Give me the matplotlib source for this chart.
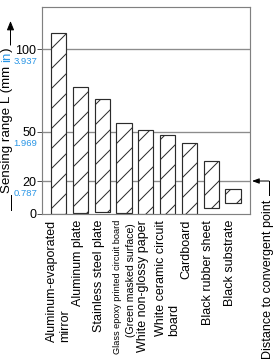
import matplotlib
matplotlib.use('Agg')
import matplotlib.pyplot as plt
from matplotlib import font_manager
from matplotlib.lines import Line2D
from matplotlib.transforms import blended_transform_factory

# ---------------- data ----------------
categories = [
    "Aluminum-evaporated\nmirror",
    "Aluminum plate",
    "Stainless steel plate",
    "Glass epoxy printed circuit board\n(Green masked surface)",
    "White non-glossy paper",
    "White ceramic circuit\nboard",
    "Cardboard",
    "Black rubber sheet",
    "Black substrate",
]
range_top = [110, 77, 69.5, 55.3, 51, 47.7, 43.2, 32, 15]
range_bottom = [0, 0.5, 1, 0.5, 0, 0, 0, 3.5, 6.5]
ytick_mm = [0, 20, 50, 100]
ytick_in = ["", "0.787", "1.969", "3.937"]
ylabel_parts = ["Sensing range L (mm", "in", ")"]
convergent_label = "Distance to convergent point"
convergent_mm = 20

# ---------------- style ----------------
W, H, DPI = 280, 360, 120
BLUE = '#2a96e6'
names = {f.name for f in font_manager.fontManager.ttflist}
SANS = 'Liberation Sans' if 'Liberation Sans' in names else 'DejaVu Sans'
plt.rcParams['font.family'] = [SANS, 'DejaVu Sans']
plt.rcParams['hatch.linewidth'] = 0.6
line_sizes = {"Glass epoxy printed circuit board": 5.5,
              "(Green masked surface)": 6.3}
LABEL_FS = 7.5

def fx(px):
    return px / W

def fy(py):
    return 1 - py / H

fig = plt.figure(figsize=(W / DPI, H / DPI), dpi=DPI)
ax = fig.add_axes([fx(42), fy(214), (250 - 42) / W, (214 - 7) / H])
ax.set_xlim(-0.76, 8.78)
ax.set_ylim(0, 125.5)

x = list(range(len(categories)))
heights = [t - b for t, b in zip(range_top, range_bottom)]
ax.bar(x, heights, bottom=range_bottom, width=0.69, color='white',
       edgecolor='#2b2b2b', linewidth=0.7, hatch='//', zorder=2)

for v in ytick_mm:
    if v > 0:
        ax.axhline(v, color='#8c8c8c', lw=0.8, zorder=1)

for s in ax.spines.values():
    s.set_color('#808080')
    s.set_linewidth(0.7)

ax.set_xticks([])
ax.set_yticks(ytick_mm)
ax.set_yticklabels([str(v) for v in ytick_mm])
ax.tick_params(axis='y', direction='out', length=3, width=0.6, color='#555555',
               pad=0.5, labelsize=7.5)

blend_ax = blended_transform_factory(ax.transAxes, ax.transData)
for v, s in zip(ytick_mm, ytick_in):
    if s:
        ax.annotate(s, xy=(0, v), xycoords=blend_ax, xytext=(-5, -12),
                    textcoords='offset pixels', ha='right', va='center',
                    color=BLUE, fontsize=5.7, annotation_clip=False)

renderer = fig.canvas.get_renderer()

# category labels
for i, cat in enumerate(categories):
    lines = cat.split('\n')
    n = len(lines)
    mixed = any(l in line_sizes for l in lines)
    first = None
    for k, line in enumerate(lines):
        off = -0.13 if n == 1 else (-0.3 + 0.6 * k)
        fs = line_sizes.get(line, LABEL_FS)
        if k == 0 or mixed:
            t = ax.annotate(line, xy=(i + off, 0), xycoords='data',
                            xytext=(0, -6 - 3 * k), textcoords='offset pixels',
                            rotation=90, ha='center', va='top',
                            fontsize=fs, annotation_clip=False)
            if k == 0:
                first = t.get_window_extent(renderer)
        else:
            # align the start of the line with the start of the first line
            xd = ax.transData.transform((i + off, 0))[0]
            fig.text(xd / W, first.y0 / H, line, rotation=90, ha='center', va='bottom',
                     fontsize=fs)

# convergent point annotation
fig.text(fx(268), fy(200), convergent_label, rotation=90, ha='center', va='top',
         fontsize=7.5)
blend_fig = blended_transform_factory(fig.transFigure, ax.transData)
ax.annotate('', xy=(fx(252), convergent_mm), xycoords=blend_fig,
            xytext=(fx(269), convergent_mm), textcoords=blend_fig,
            arrowprops=dict(arrowstyle='-|>,head_length=0.35,head_width=0.13',
                            color='black', lw=0.6, shrinkA=0, shrinkB=0),
            annotation_clip=False)
y20 = ax.transData.transform((0, convergent_mm))[1] / H
fig.add_artist(Line2D([fx(269), fx(269)], [y20, fy(195)], transform=fig.transFigure,
                      color='black', lw=0.6))

# y label built from coloured parts
tmp1 = fig.text(0, 0, "m m", fontsize=8)
tmp2 = fig.text(0, 0, "mm", fontsize=8)
space = tmp1.get_window_extent(renderer).width - tmp2.get_window_extent(renderer).width
tmp1.remove(); tmp2.remove()
colors = ['black', BLUE, 'black']
gaps = [space, 0, 0]
y_px = 193
for s, c, g in zip(ylabel_parts, colors, gaps):
    t = fig.text(fx(10), fy(y_px), s, rotation=90, rotation_mode='anchor', ha='left',
                 va='baseline', color=c, fontsize=8)
    adv = t.get_window_extent(renderer).height
    y_px -= adv + g
ax.annotate('', xy=(fx(10.5), fy(21)), xycoords='figure fraction',
            xytext=(fx(10.5), fy(y_px - 2)), textcoords='figure fraction',
            arrowprops=dict(arrowstyle='-|>,head_length=0.45,head_width=0.18',
                            color='black', lw=0.6, shrinkA=0, shrinkB=0),
            annotation_clip=False)
fig.add_artist(Line2D([fx(10.5), fx(10.5)], [fy(195), fy(210)], transform=fig.transFigure,
                      color='black', lw=0.6))

fig.savefig('out.png', dpi=DPI)
